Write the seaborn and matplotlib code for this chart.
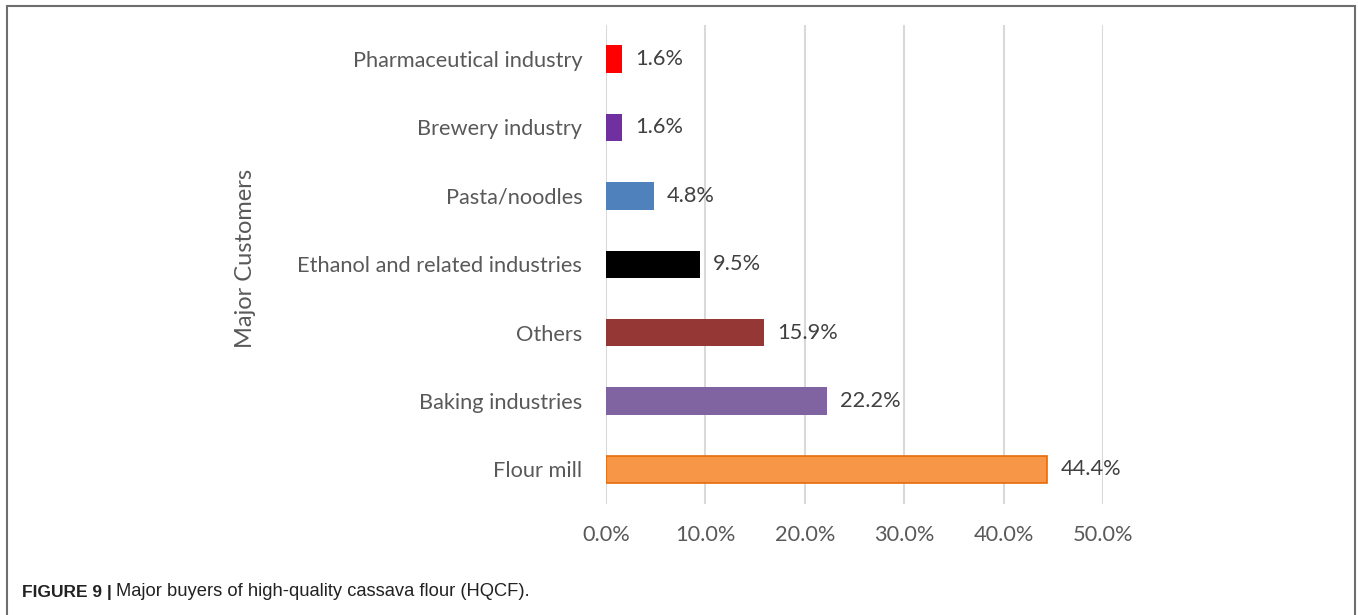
"""Major buyers of high-quality cassava flour (HQCF) - horizontal bar chart."""

import pandas as pd
import matplotlib
matplotlib.use("Agg")
import matplotlib.pyplot as plt
from matplotlib.patches import Rectangle
from matplotlib.ticker import FuncFormatter
import seaborn as sns

# Данные
customers = [
    "Pharmaceutical industry",
    "Brewery industry",
    "Pasta/noodles",
    "Ethanol and related industries",
    "Others",
    "Baking industries",
    "Flour mill",
]
shares = [1.6, 1.6, 4.8, 9.5, 15.9, 22.2, 44.4]
bar_colors = ["#FF0000", "#7030A0", "#4F81BD", "#000000", "#953735", "#8064A2", "#F79646"]
x_ticks = [0, 10, 20, 30, 40, 50]

df = pd.DataFrame({"customer": customers, "share": shares})

sns.set_theme(style="white")
plt.rcParams["font.family"] = ["Lato", "DejaVu Sans"]

fig = plt.figure(figsize=(13.58, 6.15), dpi=100)
ax = fig.add_axes([0.4462, 0.181, 0.3660, 0.7787])

sns.barplot(
    data=df, y="customer", x="share", hue="customer",
    palette=dict(zip(customers, bar_colors)), orient="h",
    width=0.4, legend=False, ax=ax, saturation=1,
)
for patch in ax.patches:
    patch.set_edgecolor("none")
# Обводка у самого длинного бара
ax.patches[-1].set_edgecolor("#E46C0A")
ax.patches[-1].set_linewidth(1.2)

ax.set_xlim(0, 50)
ax.set_ylim(6.5, -0.5)
ax.set_xticks(x_ticks)
ax.xaxis.set_major_formatter(FuncFormatter(lambda v, _: f"{v:.1f}%"))
ax.grid(axis="x", color="#D9D9D9", linewidth=1.5)
ax.set_axisbelow(True)
for s in ax.spines.values():
    s.set_visible(False)

ax.tick_params(axis="x", length=0, pad=15, labelsize=15.7, labelcolor="#595959")
ax.tick_params(axis="y", length=0, pad=17, labelsize=15.7, labelcolor="#595959")
ax.set_xlabel("")
ax.set_ylabel("Major Customers", fontsize=17, color="#595959", labelpad=0)
ax.yaxis.set_label_coords(-0.705, 0.513)

# Подписи значений
for i, v in enumerate(shares):
    ax.text(v + 1.3, i, f"{v:.1f}%", va="center", ha="left",
            fontsize=15.7, color="#404040")

# Рамка вокруг рисунка
fig.patches.append(Rectangle((7 / 1358, -0.1), 1348 / 1358, 1.1 - 6 / 615,
                             transform=fig.transFigure, fill=False,
                             edgecolor="#6E6E6E", linewidth=1.5))

# Подпись
bold = fig.text(22 / 1358, 1 - 592 / 615, "FIGURE 9 |", fontsize=12.5, fontweight="bold",
                color="#222222", va="center", ha="left", family="Liberation Sans")
fig.canvas.draw()
ax.annotate("Major buyers of high-quality cassava flour (HQCF).",
            xy=(1, 0.5), xycoords=bold, xytext=(3, 0), textcoords="offset points",
            fontsize=13.2, color="#222222", va="center", ha="left",
            family="Liberation Sans", annotation_clip=False)

fig.savefig("out.png", dpi=100)
plt.close(fig)
